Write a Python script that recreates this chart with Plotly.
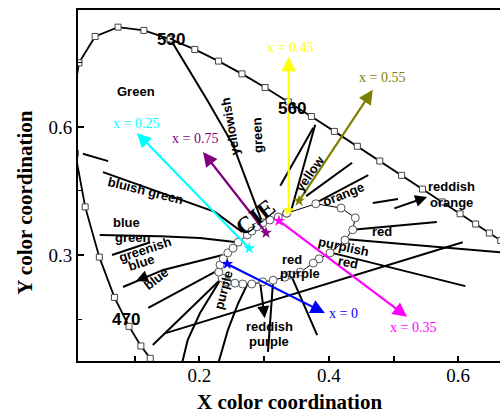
import plotly.graph_objects as go

# CIE 1931 spectral locus (5 nm steps)
wavelengths = [460, 465, 470, 475, 480, 485, 490, 495, 500, 505, 510, 515, 520, 525, 530,
               535, 540, 545, 550, 555, 560, 565, 570, 575, 580, 585, 590, 595, 600, 605,
               610, 615, 620]
locus_x = [0.1440, 0.1355, 0.1241, 0.1096, 0.0913, 0.0687, 0.0454, 0.0235, 0.0082, 0.0039,
           0.0139, 0.0389, 0.0743, 0.1142, 0.1547, 0.1929, 0.2296, 0.2658, 0.3016, 0.3373,
           0.3731, 0.4087, 0.4441, 0.4788, 0.5125, 0.5448, 0.5752, 0.6029, 0.6270, 0.6482,
           0.6658, 0.6801, 0.6915]
locus_y = [0.0297, 0.0399, 0.0578, 0.0868, 0.1327, 0.2007, 0.2950, 0.4127, 0.5384, 0.6548,
           0.7502, 0.8120, 0.8338, 0.8262, 0.8059, 0.7816, 0.7543, 0.7243, 0.6923, 0.6589,
           0.6245, 0.5896, 0.5547, 0.5202, 0.4866, 0.4544, 0.4242, 0.3965, 0.3725, 0.3514,
           0.3340, 0.3197, 0.3083]

# white-region loop
loop_x = [0.335, 0.380, 0.419, 0.441, 0.437, 0.425, 0.402, 0.385, 0.376, 0.356, 0.340, 0.332,
          0.314, 0.298, 0.281, 0.267, 0.255, 0.243, 0.235, 0.230, 0.232, 0.237, 0.244, 0.252,
          0.260, 0.274, 0.281, 0.289, 0.298, 0.309, 0.322, 0.335]
loop_y = [0.398, 0.420, 0.410, 0.387, 0.359, 0.335, 0.305, 0.291, 0.281, 0.260, 0.253, 0.248,
          0.241, 0.237, 0.232, 0.232, 0.234, 0.237, 0.246, 0.260, 0.277, 0.291, 0.305, 0.316,
          0.330, 0.347, 0.356, 0.366, 0.375, 0.382, 0.389, 0.398]

# colour-region boundary lines
boundaries = [
    ([0.155, 0.212, 0.252, 0.275, 0.297], [0.806, 0.663, 0.558, 0.464, 0.377]),
    ([0.020, 0.059], [0.537, 0.520]),
    ([0.051, 0.144, 0.224, 0.266], [0.494, 0.445, 0.401, 0.354]),
    ([0.046, 0.139, 0.201, 0.258], [0.347, 0.344, 0.340, 0.330]),
    ([0.065, 0.124], [0.300, 0.330]),
    ([0.082, 0.144, 0.236], [0.225, 0.265, 0.300]),
    ([0.121, 0.232], [0.176, 0.267]),
    ([0.128, 0.235], [0.089, 0.246]),
    ([0.148, 0.607], [0.117, 0.330]),
    ([0.173, 0.182, 0.201, 0.232], [0.045, 0.101, 0.164, 0.241]),
    ([0.229, 0.244, 0.260, 0.275], [0.045, 0.124, 0.187, 0.234]),
    ([0.306, 0.314], [0.073, 0.241]),
    ([0.382, 0.343], [0.112, 0.248]),
    ([0.376, 0.325], [0.598, 0.462]),
    ([0.379, 0.342], [0.605, 0.405]),
    ([0.365, 0.436], [0.438, 0.516]),
    ([0.380, 0.461], [0.422, 0.487]),
    ([0.468, 0.507], [0.422, 0.431]),
    ([0.437, 0.567], [0.359, 0.377]),
    ([0.428, 0.700], [0.337, 0.302]),
    ([0.405, 0.611], [0.305, 0.227]),
]

# black arrows (tail -> head)
black_arrows = [
    (0.499, 0.408, 0.552, 0.436),
    (0.294, 0.234, 0.301, 0.152),
    (0.121, 0.251, 0.102, 0.239),
]

# coloured trend arrows
arrow_labels = ["x = 0.25", "x = 0.75", "x = 0.45", "x = 0.55", "x = 0.35", "x = 0"]
arrow_colors = ["#00FFFF", "#800080", "#FFFF00", "#808000", "#FF00FF", "#0000FF"]
tail_x = [0.277, 0.303, 0.338, 0.354, 0.323, 0.243]
tail_y = [0.316, 0.352, 0.405, 0.427, 0.380, 0.279]
head_x = [0.1036, 0.2056, 0.338, 0.468, 0.521, 0.394]
head_y = [0.586, 0.541, 0.764, 0.687, 0.155, 0.164]
label_x = [0.102, 0.193, 0.340, 0.482, 0.530, 0.422]
label_y = [0.609, 0.574, 0.785, 0.715, 0.131, 0.162]

# region names: text, x, y, angle
region_texts = [
    ("Green", 0.102, 0.682, 0),
    ("yellowish", 0.247, 0.602, -100),
    ("green", 0.289, 0.581, -93),
    ("yellow", 0.371, 0.490, -55),
    ("orange", 0.422, 0.441, -22),
    ("reddish", 0.590, 0.460, 0),
    ("orange", 0.589, 0.423, 0),
    ("red", 0.482, 0.356, 0),
    ("purplish", 0.422, 0.320, 12),
    ("red", 0.430, 0.283, 12),
    ("red", 0.343, 0.290, 0),
    ("purple", 0.355, 0.257, 0),
    ("reddish", 0.309, 0.133, 0),
    ("purple", 0.308, 0.098, 0),
    ("purple", 0.238, 0.218, -75),
    ("blue", 0.134, 0.244, -38),
    ("greenish", 0.116, 0.313, -18),
    ("blue", 0.111, 0.282, -18),
    ("blue", 0.088, 0.377, 0),
    ("green", 0.096, 0.341, 0),
    ("bluish green", 0.116, 0.452, 14),
]
wl_labels = [("530", 0.156, 0.804), ("560", 0.343, 0.644), ("470", 0.0866, 0.150)]

fig = go.Figure()

for bx, by in boundaries:
    fig.add_trace(go.Scatter(x=bx, y=by, mode="lines",
                             line=dict(color="black", width=2), showlegend=False,
                             hoverinfo="skip"))

fig.add_trace(go.Scatter(x=locus_x, y=locus_y, mode="lines+markers",
                         line=dict(color="black", width=1.8),
                         marker=dict(symbol="square", size=6, color="white",
                                     line=dict(color="#444444", width=1)),
                         showlegend=False))

fig.add_trace(go.Scatter(x=loop_x, y=loop_y, mode="lines+markers",
                         line=dict(color="black", width=1),
                         marker=dict(symbol="circle", size=8, color="white",
                                     line=dict(color="#555555", width=1)),
                         showlegend=False))

annotations = []
for tx, ty, hx, hy in black_arrows:
    annotations.append(dict(x=hx, y=hy, ax=tx, ay=ty, xref="x", yref="y", axref="x",
                            ayref="y", text="", showarrow=True, arrowhead=2,
                            arrowsize=1.2, arrowwidth=2, arrowcolor="black"))

for i in range(len(arrow_labels)):
    annotations.append(dict(x=head_x[i], y=head_y[i], ax=tail_x[i], ay=tail_y[i],
                            xref="x", yref="y", axref="x", ayref="y", text="",
                            showarrow=True, arrowhead=2, arrowsize=1.3, arrowwidth=2.2,
                            arrowcolor=arrow_colors[i]))
    annotations.append(dict(x=label_x[i], y=label_y[i], xref="x", yref="y",
                            xanchor="center", yanchor="middle",
                            text=arrow_labels[i], showarrow=False,
                            font=dict(family="Liberation Serif", size=14,
                                      color=arrow_colors[i])))

fig.add_trace(go.Scatter(x=tail_x, y=tail_y, mode="markers",
                         marker=dict(symbol="star", size=9, color=arrow_colors),
                         showlegend=False))

for t, x, y, a in region_texts:
    annotations.append(dict(x=x, y=y, xref="x", yref="y", text=t, showarrow=False,
                            textangle=a, xanchor="center", yanchor="middle",
                            font=dict(family="Liberation Sans", size=13, color="black",
                                      weight="bold")))
for t, x, y in wl_labels:
    annotations.append(dict(x=x, y=y, xref="x", yref="y", text=t, showarrow=False,
                            xanchor="center", yanchor="middle",
                            font=dict(family="Liberation Sans", size=17, color="black",
                                      weight="bold")))

annotations.append(dict(x=0.287, y=0.389, xref="x", yref="y", text="CIE", showarrow=False,
                        textangle=-38, xanchor="center", yanchor="middle",
                        font=dict(family="Liberation Serif", size=24, color="black",
                                  weight="bold")))

annotations.append(dict(x=0.5, y=-0.117, xref="paper", yref="paper",
                        xanchor="center", yanchor="middle",
                        text="X color coordination", showarrow=False,
                        font=dict(family="Liberation Serif", size=21, color="black",
                                  weight="bold")))
annotations.append(dict(x=-0.126, y=0.453, xref="paper", yref="paper",
                        xanchor="center", yanchor="middle",
                        text="Y color coordination", showarrow=False, textangle=-90,
                        font=dict(family="Liberation Serif", size=21, color="black",
                                  weight="bold")))

fig.update_layout(
    width=500, height=413,
    margin=dict(l=78, r=0, t=10, b=52),
    plot_bgcolor="white", paper_bgcolor="white",
    annotations=annotations,
    xaxis=dict(range=[0.0124, 0.6646], showgrid=False, zeroline=False,
               showline=True, linecolor="black", linewidth=2, mirror=True,
               ticks="inside", ticklen=5, tickwidth=1.5, tickcolor="black",
               tick0=0, dtick=0.2, tickformat=".1f", ticklabelstandoff=-4,
               tickfont=dict(family="Liberation Serif", size=19, color="black"),
               minor=dict(ticks="inside", ticklen=5, tickwidth=1.5, dtick=0.1,
                          tickcolor="black")),
    yaxis=dict(range=[0.0516, 0.874], showgrid=False, zeroline=False,
               showline=True, linecolor="black", linewidth=2, mirror=False,
               ticks="inside", ticklen=6, tickwidth=1.5, tickcolor="black",
               tick0=0, dtick=0.3, tickformat=".1f",
               tickfont=dict(family="Liberation Serif", size=19, color="black"),
               minor=dict(ticks="inside", ticklen=4, tickwidth=1.2, dtick=0.15,
                          tickcolor="black")),
)

fig.write_html("out.html")
